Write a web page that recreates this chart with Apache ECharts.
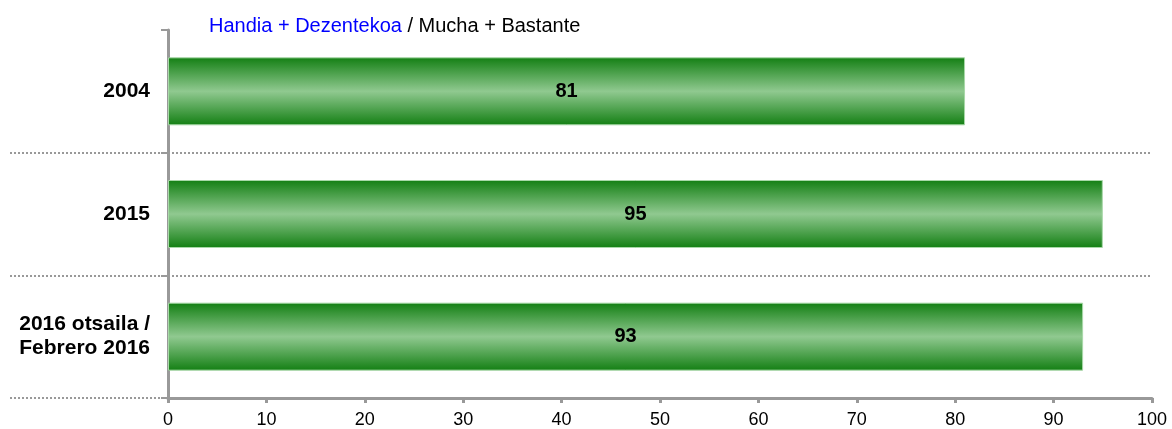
<!DOCTYPE html>
<html>
<head>
<meta charset="utf-8" />
<title>Handia + Dezentekoa</title>
<style>
  * { margin: 0; padding: 0; }
  body { background: #fff; }
  #chart { width: 1172px; height: 429px; }
</style>
<script src="https://cdn.jsdelivr.net/npm/echarts@6/dist/echarts.min.js"></script>
</head>
<body>
<div id="chart"></div>
<script>
// datos
var years = ['2004', '2015', '2016 otsaila /\nFebrero 2016'];
var values = [81, 95, 93];
var xTicks = [0, 10, 20, 30, 40, 50, 60, 70, 80, 90, 100];

var chart = echarts.init(document.getElementById('chart'));

var barGrad = new echarts.graphic.LinearGradient(0, 0, 0, 1, [
  { offset: 0, color: '#137f13' },
  { offset: 0.5, color: '#90c990' },
  { offset: 1, color: '#137f13' }
]);

var option = {
  backgroundColor: '#fff',
  animation: false,
  title: {
    text: '{b|Handia + Dezentekoa}{k| / Mucha + Bastante}',
    left: 204,
    top: 11,
    textStyle: {
      fontWeight: 'normal',
      rich: {
        b: { color: '#0000ff', fontSize: 20, fontWeight: 'normal', fontFamily: 'Liberation Sans' },
        k: { color: '#000', fontSize: 20, fontWeight: 'normal', fontFamily: 'Liberation Sans' }
      }
    }
  },
  grid: { left: 168, right: 20, top: 30, bottom: 31 },
  xAxis: {
    type: 'value',
    min: xTicks[0],
    max: xTicks[xTicks.length - 1],
    interval: 10,
    axisLine: { show: true, lineStyle: { color: '#999', width: 3 } },
    axisTick: { show: true, length: 5, lineStyle: { color: '#999', width: 3 } },
    axisLabel: { color: '#000', fontSize: 18, margin: 13, fontFamily: 'Liberation Sans' },
    splitLine: { show: false }
  },
  yAxis: [
    {
      type: 'category',
      data: years,
      inverse: true,
      axisLine: { show: true, lineStyle: { color: '#999', width: 3 } },
      axisTick: { show: true, length: 7, lineStyle: { color: '#999', width: 2 },
        interval: 0 },
      axisLabel: {
        color: '#000', fontSize: 21, fontWeight: 'bold', margin: 18,
        lineHeight: 24, fontFamily: 'Liberation Sans'
      },
      splitLine: {
        show: true, showMinLine: false,
        lineStyle: { color: '#999', width: 2, type: 'dotted' }
      }
    },
    {
      type: 'category',
      data: years,
      inverse: true,
      position: 'left',
      axisLine: { show: false },
      axisLabel: { show: false },
      splitLine: { show: false },
      axisTick: {
        show: true, length: 160,
        interval: function (i) { return i > 0; },
        lineStyle: { color: '#999', width: 2, type: 'dotted' }
      }
    }
  ],
  series: [{
    type: 'bar',
    data: values,
    barWidth: 68,
    itemStyle: { color: barGrad, borderColor: '#a8d8a8', borderWidth: 1 },
    label: {
      show: true, position: 'inside', color: '#000', fontSize: 20,
      fontWeight: 'bold', fontFamily: 'Liberation Sans'
    }
  }]
};

chart.setOption(option);
</script>
</body>
</html>
